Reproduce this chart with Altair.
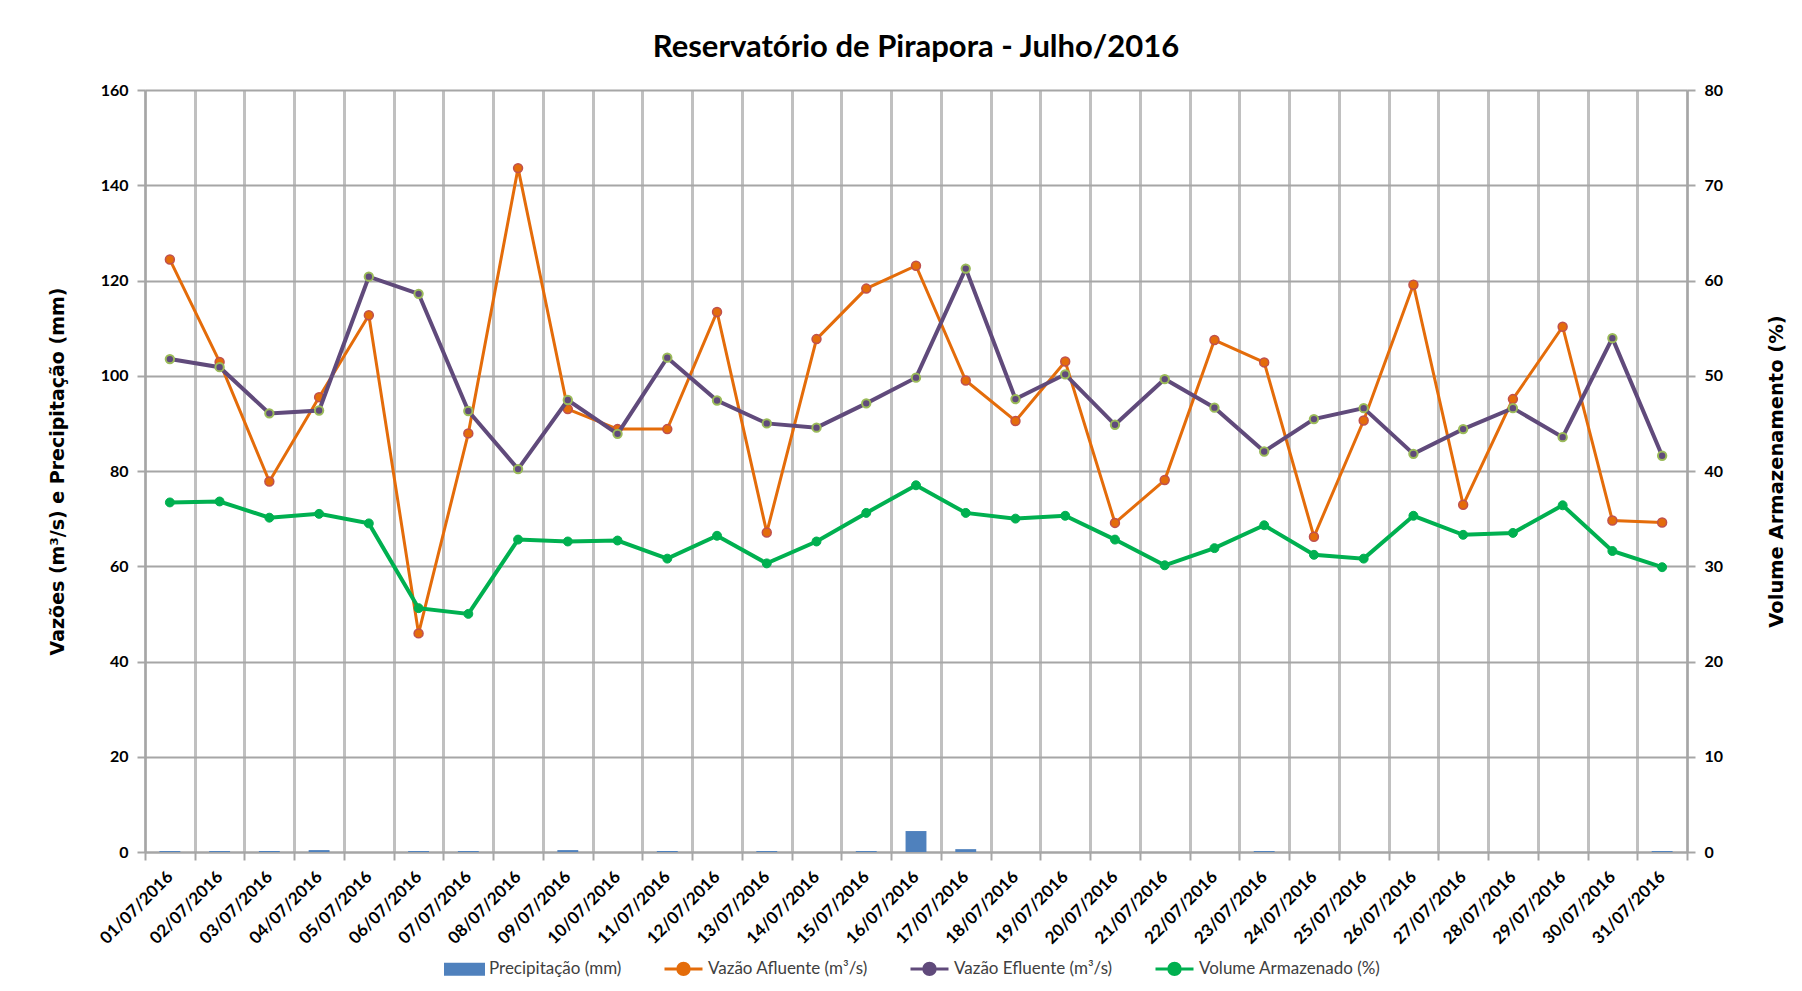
import altair as alt
import pandas as pd

datas = ["01/07/2016", "02/07/2016", "03/07/2016", "04/07/2016", "05/07/2016", "06/07/2016",
         "07/07/2016", "08/07/2016", "09/07/2016", "10/07/2016", "11/07/2016", "12/07/2016",
         "13/07/2016", "14/07/2016", "15/07/2016", "16/07/2016", "17/07/2016", "18/07/2016",
         "19/07/2016", "20/07/2016", "21/07/2016", "22/07/2016", "23/07/2016", "24/07/2016",
         "25/07/2016", "26/07/2016", "27/07/2016", "28/07/2016", "29/07/2016", "30/07/2016",
         "31/07/2016"]

precipitacao = [0.2, 0.2, 0.2, 0.4, 0.0, 0.2, 0.2, 0.0, 0.4, 0.0, 0.2, 0.0, 0.2, 0.0, 0.2,
                4.4, 0.6, 0.0, 0.0, 0.0, 0.0, 0.0, 0.2, 0.0, 0.0, 0.0, 0.0, 0.0, 0.0, 0.0, 0.2]

vazao_afluente = [124.4, 102.9, 77.8, 95.5, 112.7, 45.9, 87.9, 143.6, 93.0, 88.8, 88.8, 113.4,
                  67.1, 107.7, 118.3, 123.1, 99.0, 90.5, 103.0, 69.1, 78.1, 107.5, 102.8, 66.2,
                  90.6, 119.1, 72.9, 95.1, 110.3, 69.6, 69.2]

vazao_efluente = [103.5, 101.8, 92.1, 92.7, 120.8, 117.2, 92.6, 80.4, 94.9, 87.8, 103.8, 94.8,
                  90.0, 89.1, 94.2, 99.6, 122.5, 95.1, 100.3, 89.7, 99.3, 93.3, 84.1, 90.9,
                  93.2, 83.6, 88.8, 93.2, 87.1, 107.9, 83.2]

volume_armazenado = [36.7, 36.8, 35.1, 35.5, 34.5, 25.6, 25.0, 32.8, 32.6, 32.7, 30.8, 33.2,
                     30.3, 32.6, 35.6, 38.5, 35.6, 35.0, 35.3, 32.8, 30.1, 31.9, 34.3, 31.2,
                     30.8, 35.3, 33.3, 33.5, 36.4, 31.6, 29.9]

left_ticks = [0, 20, 40, 60, 80, 100, 120, 140, 160]
right_ticks = [0, 10, 20, 30, 40, 50, 60, 70, 80]

series = ["Precipitação (mm)", "Vazão Afluente (m³/s)", "Vazão Efluente (m³/s)", "Volume Armazenado (%)"]
c_bar = "#4F81BD"
c_orange = "#E46C0A"
c_purple = "#604A7B"
c_green = "#00B050"

df = pd.DataFrame({
    "data": datas,
    "precip": precipitacao,
    "afluente": vazao_afluente,
    "efluente": vazao_efluente,
    "volume": volume_armazenado,
})
legend_df = pd.DataFrame({"serie": series})

x_enc = alt.X(
    "data:N", sort=datas, title=None,
    scale=alt.Scale(paddingInner=0, paddingOuter=0),
    axis=alt.Axis(labelAngle=-45, labelAlign="right", labelBaseline="middle",
                  labelFontSize=17, labelPadding=14, tickBand="extent",
                  grid=True, gridColor="#c0c0c0", gridWidth=3, tickSize=8),
)

yscale_left = alt.Scale(domain=[0, 160], nice=False, zero=True)
yaxis_left = alt.Axis(values=left_ticks, title="Vazões (m³/s) e Precipitação (mm)",
                      grid=True, gridColor="#a6a6a6", gridWidth=2, tickSize=8,
                      labelPadding=9, labelFontSize=16,
                      titleAngle=270, titleX=-88, titleY=381, titleAlign="center",
                      titleBaseline="middle")
yscale_right = alt.Scale(domain=[0, 80], nice=False, zero=True)
yaxis_right = alt.Axis(orient="right", values=right_ticks, title="Volume Armazenamento (%)",
                       grid=False, tickSize=8, labelPadding=9, labelFontSize=16,
                       titleAngle=270, titleX=89, titleY=381, titleAlign="center",
                       titleBaseline="middle", titleFontSize=19.5)

base = alt.Chart(df).encode(x=x_enc)

bars = base.mark_bar(color=c_bar, width=alt.RelativeBandSize(0.42)).encode(
    y=alt.Y("precip:Q", scale=yscale_left, axis=yaxis_left))

afl_line = base.mark_line(color=c_orange, strokeWidth=3).encode(
    y=alt.Y("afluente:Q", scale=yscale_left, axis=yaxis_left))
afl_pts = base.mark_point(filled=True, fill=c_orange, stroke="#C0504D", strokeWidth=1.5,
                          size=80, opacity=1).encode(
    y=alt.Y("afluente:Q", scale=yscale_left, axis=yaxis_left))

efl_line = base.mark_line(color=c_purple, strokeWidth=4).encode(
    y=alt.Y("efluente:Q", scale=yscale_left, axis=yaxis_left))
efl_pts = base.mark_point(filled=True, fill=c_purple, stroke="#9BBB59", strokeWidth=2,
                          size=70, opacity=1).encode(
    y=alt.Y("efluente:Q", scale=yscale_left, axis=yaxis_left))

leg = alt.Legend(title=None, orient="none", legendX=299, legendY=858, direction="horizontal",
                 columns=4, symbolSize=1444, symbolStrokeWidth=3, labelFont="Lato",
                 labelFontSize=17, labelColor="#404040", labelFontWeight="normal",
                 columnPadding=36, labelOffset=4, labelLimit=400)
line_sym = "M-1,0H-0.3M0.3,0H1M-0.3,0A0.3,0.3 0 1,0 0.3,0A0.3,0.3 0 1,0 -0.3,0Z"
bar_sym = "M-1,-0.26H1V0.26H-1Z"
legend_layer = alt.Chart(legend_df).mark_point(filled=True, opacity=1).encode(
    fill=alt.Fill("serie:N", sort=series,
                  scale=alt.Scale(domain=series, range=[c_bar, c_orange, c_purple, c_green]),
                  legend=leg),
    stroke=alt.Stroke("serie:N", sort=series,
                      scale=alt.Scale(domain=series, range=[c_bar, c_orange, c_purple, c_green]),
                      legend=leg),
    shape=alt.Shape("serie:N", sort=series,
                    scale=alt.Scale(domain=series, range=[bar_sym, line_sym, line_sym, line_sym]),
                    legend=leg),
).transform_filter("false")

vol_line = base.mark_line(color=c_green, strokeWidth=4).encode(
    y=alt.Y("volume:Q", scale=yscale_right, axis=yaxis_right))
vol_pts = base.mark_point(filled=True, fill=c_green, stroke=c_green, strokeWidth=1,
                          size=80, opacity=1).encode(
    y=alt.Y("volume:Q", scale=yscale_right, axis=yaxis_right))

left = alt.layer(bars, afl_line, afl_pts, efl_line, efl_pts, legend_layer)
right = alt.layer(vol_line, vol_pts)

chart = alt.layer(left, right).resolve_scale(y="independent").properties(
    width=1542, height=762,
    autosize=alt.AutoSizeParams(type="none"),
    padding={"left": 137, "top": 82, "right": 107, "bottom": 136},
    background="white",
    title=alt.TitleParams("Reservatório de Pirapora - Julho/2016", font="Lato", fontSize=31,
                          fontWeight="bold", color="black", anchor="middle", frame="group",
                          offset=18),
).configure_view(
    fill="#d9d9d9", stroke=None
).configure_axis(
    labelFont="Lato", labelFontWeight="bold", labelColor="black",
    domainColor="#a6a6a6", domainWidth=2, tickColor="#a6a6a6", tickWidth=2,
    titleFont="DejaVu Sans", titleFontWeight="bold", titleFontSize=19, titleColor="black",
)

chart.save("out.html", embed_options={"renderer": "svg", "actions": False})
